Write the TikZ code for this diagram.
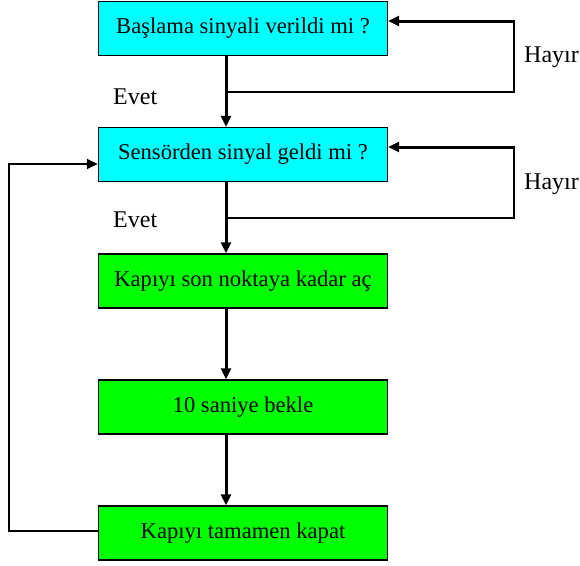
\documentclass[tikz,border=0pt]{standalone}
\usepackage{fontspec}
\setmainfont{Liberation Serif}
\usetikzlibrary{arrows.meta}
\definecolor{qcyan}{RGB}{0,255,255}
\definecolor{agreen}{RGB}{0,255,0}
\tikzset{
  box/.style={draw=black, line width=1.4pt, minimum width=289pt, minimum height=54pt,
              inner sep=0pt, font=\fontsize{22.6}{26}\selectfont},
  query/.style={box, fill=qcyan},
  action/.style={box, fill=agreen},
  flow/.style={line width=3pt, -{Triangle[length=11pt,width=10pt]}},
  thinline/.style={line width=1.6pt},
  back/.style={line width=1.6pt, -{Triangle[length=11pt,width=10pt]}},
  lbl/.style={font=\fontsize{24}{27}\selectfont, inner sep=0pt}
}
\begin{document}
\begin{tikzpicture}[x=1pt,y=-1pt]
\useasboundingbox (0,0) rectangle (580,565);
\clip (0,0) rectangle (580,565);

% process boxes
\node[query]  (b1) at (243,28.5)  {Başlama sinyali verildi mi ?};
\node[query]  (b2) at (243,154.5) {Sensörden sinyal geldi mi ?};
\node[action] (b3) at (243,281)   {Kapıyı son noktaya kadar aç};
\node[action] (b4) at (243,407)   {10 saniye bekle};
\node[action] (b5) at (243,533)   {Kapıyı tamamen kapat};

% main downward flow
\coordinate (t1) at (226,55.5);
\coordinate (t2) at (226,181.5);
\draw[flow] (b1.south -| t1) -- (b2.north -| t1);
\draw[flow] (b2.south -| t2) -- (b3.north -| t2);
\draw[flow] (b3.south -| t2) -- (b4.north -| t2);
\draw[flow] (b4.south -| t2) -- (b5.north -| t2);

% "no" loops on the right
\coordinate (j1) at (226,92);
\coordinate (r1) at (514,92);
\coordinate (u1) at (514,21);
\draw[thinline] (j1) -- (r1) -- (u1);
\draw[flow] ([xshift=0.8pt]u1) -- (b1.east |- u1);

\coordinate (j2) at (226,218);
\coordinate (r2) at (514,218);
\coordinate (u2) at (514,147);
\draw[thinline] (j2) -- (r2) -- (u2);
\draw[flow] ([xshift=0.8pt]u2) -- (b2.east |- u2);

% return loop on the left
\coordinate (l1) at (9,531);
\coordinate (l2) at (9,164);
\draw[back] (b5.west |- l1) -- (l1) -- (l2) -- (b2.west |- l2);

% branch labels
\node[lbl, anchor=west] (e1) at (113,97)  {Evet};
\node[lbl, anchor=west] (e2) at (113,220) {Evet};
\node[lbl, anchor=west] (h1) at (524,57)  {Hayır};
\node[lbl, anchor=west] (h2) at (524,184) {Hayır};
\end{tikzpicture}
\end{document}
